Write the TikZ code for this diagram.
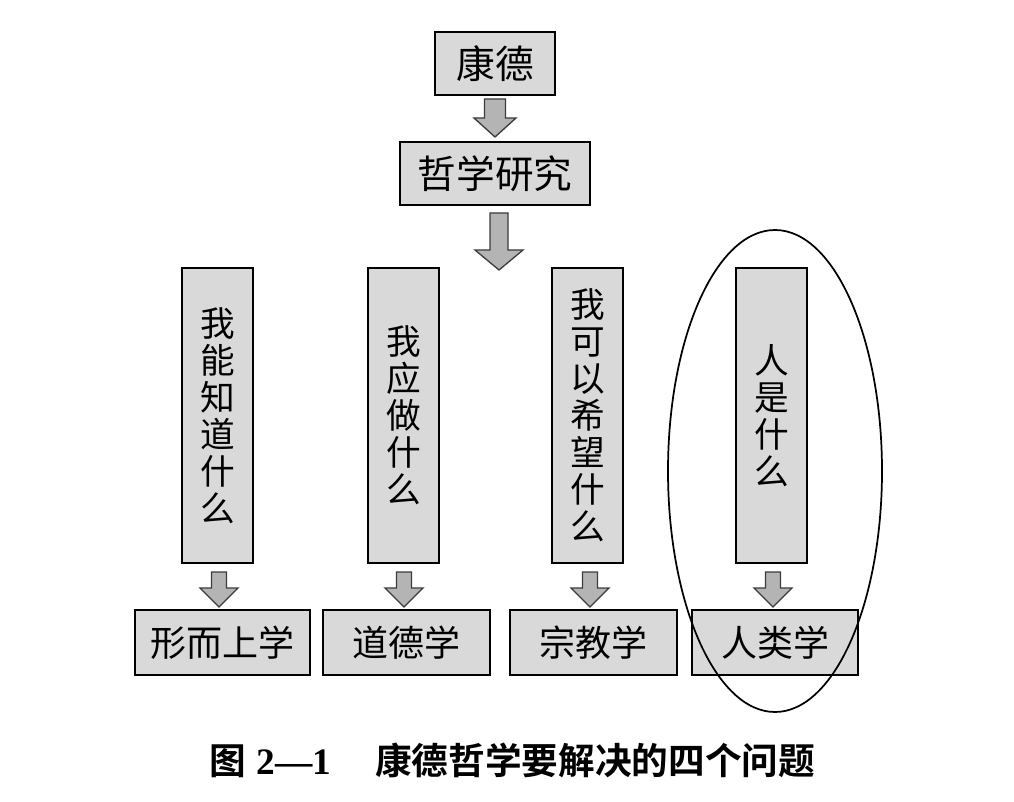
\documentclass[tikz,border=0pt]{standalone}
\usepackage{fontspec}
\newfontfamily\cjk{Noto Sans CJK SC}
\newfontfamily\cjkb{Noto Sans CJK SC Bold}
\newfontfamily\serifb{Liberation Serif}
\definecolor{boxfill}{HTML}{D9D9D9}
\definecolor{arrowfill}{HTML}{B4B4B4}
\definecolor{arrowdraw}{HTML}{3C3C3C}
\tikzset{
  box/.style={draw=black, line width=1.4pt, fill=boxfill, inner sep=0pt, align=center},
  hbox/.style={box, font=\cjk\fontsize{29}{32}\selectfont},
  vbox/.style={box, minimum width=53.25pt, minimum height=221.25pt, font=\cjk\fontsize{26}{27.75}\selectfont},
  bbox/.style={box, minimum height=48.75pt, font=\cjk\fontsize{27}{30}\selectfont},
  blockarrow/.style={draw=arrowdraw, line width=1pt, fill=arrowfill, line join=miter},
  pics/downarrow/.style n args={4}{code={
    \draw[blockarrow] (-#1,0) -- (#1,0) -- (#1,#3) -- (#2,#3) -- (0,#4) -- (-#2,#3) -- (-#1,#3) -- cycle;
  }}
}
\begin{document}
\begin{tikzpicture}[x=0.75pt, y=-0.75pt]
\useasboundingbox (0,0) rectangle (1014,802);
\fill[white] (0,0) rectangle (1014,802);
% top boxes
\node[hbox, minimum width=90pt, minimum height=47.25pt] (kant) at (495,63.5) {康德};
\node[hbox, minimum width=142.5pt, minimum height=47.25pt] (phil) at (495,173.5) {哲学研究};
% arrows top
\pic at (495,99) {downarrow={10.5}{21}{19}{38}};
\pic at (499,213) {downarrow={9}{24}{37}{57}};
% vertical boxes
\node[vbox] (q1) at (217.5,415.5) {我\\能\\知\\道\\什\\么};
\node[vbox] (q2) at (403.5,415.5) {我\\应\\做\\什\\么};
\node[vbox] (q3) at (587.5,415.5) {我\\可\\以\\希\\望\\什\\么};
\node[vbox] (q4) at (771.5,415.5) {人\\是\\什\\么};
% small arrows
\pic at (219,572) {downarrow={7.5}{19}{16}{35}};
\pic at (404,572) {downarrow={7.5}{19}{16}{35}};
\pic at (590,572) {downarrow={7.5}{19}{16}{35}};
\pic at (773,572) {downarrow={7.5}{19}{16}{35}};
% bottom boxes
\node[bbox, minimum width=131.25pt] (a1) at (222.5,642.5) {形而上学};
\node[bbox, minimum width=125.25pt] (a2) at (406.5,642.5) {道德学};
\node[bbox, minimum width=125.25pt] (a3) at (593.5,642.5) {宗教学};
\node[bbox, minimum width=124.5pt] (a4) at (775,642.5) {人类学};
% ellipse
\draw[line width=1.3pt] (775,471) ellipse [x radius=107, y radius=241];
% caption
\node[font=\cjkb\fontsize{27.5}{30}\selectfont] (cap) at (512,760) {图\hspace{8pt}{\serifb\bfseries\fontsize{28}{30}\selectfont 2—1}\hspace{33pt}康德哲学要解决的四个问题};
\end{tikzpicture}
\end{document}
